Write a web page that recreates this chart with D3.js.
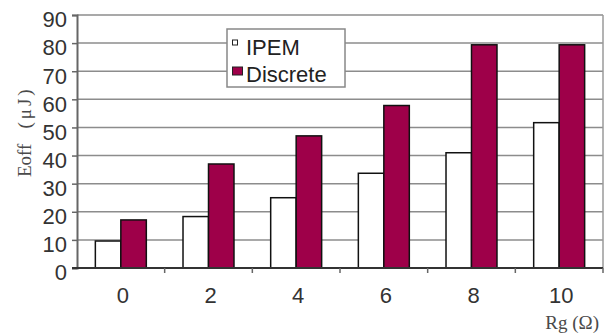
<!DOCTYPE html>
<html>
<head>
<meta charset="utf-8">
<script src="https://cdn.jsdelivr.net/npm/d3@7/dist/d3.min.js"></script>
<style>
  html, body { margin: 0; padding: 0; background: #fff; }
  svg { display: block; }
</style>
</head>
<body>
<svg id="chart" width="608" height="336"></svg>
<script>
// ---- data ----
const categories = ["0", "2", "4", "6", "8", "10"];
const seriesNames = ["IPEM", "Discrete"];
const ipemValues = [9.6, 18.3, 25.0, 33.7, 41.0, 51.7];
const discreteValues = [17.1, 37.0, 47.0, 57.8, 79.4, 79.4];
const yTicks = [0, 10, 20, 30, 40, 50, 60, 70, 80, 90];
const seriesColors = ["#ffffff", "#9e0049"];

(function () {
const svg = d3.select("#chart");
const mL = 77, mR = 603, mT = 15, mB = 268;

const x0 = d3.scaleBand().domain(categories).range([mL, mR]).padding(0);
const x1 = d3.scaleBand().domain(seriesNames).range([0, x0.bandwidth()])
  .paddingInner(0).paddingOuter(0.72);
const y = d3.scaleLinear().domain([0, 90]).range([mB, mT]);

// gridlines
svg.append("g").selectAll("line").data(yTicks.filter(d => d > 0)).join("line")
  .attr("x1", mL).attr("x2", mR)
  .attr("y1", d => y(d)).attr("y2", d => y(d))
  .attr("stroke", "#8c8c8c").attr("stroke-width", 1.5);

// right border
svg.append("line").attr("x1", mR).attr("x2", mR).attr("y1", mT).attr("y2", mB)
  .attr("stroke", "#9a9a9a").attr("stroke-width", 1.5);

// bars
const rows = categories.map((c, i) => ({ cat: c, vals: [ipemValues[i], discreteValues[i]] }));
const groups = svg.append("g").selectAll("g").data(rows).join("g")
  .attr("transform", d => `translate(${x0(d.cat)},0)`);
groups.selectAll("rect").data(d => d.vals.map((v, j) => ({ s: seriesNames[j], v, j }))).join("rect")
  .attr("x", d => x1(d.s))
  .attr("width", x1.bandwidth())
  .attr("y", d => y(d.v))
  .attr("height", d => y(0) - y(d.v))
  .attr("fill", d => seriesColors[d.j])
  .attr("stroke", "#111").attr("stroke-width", 1.5);

// y axis
const yAxis = svg.append("g").attr("transform", `translate(${mL},0)`)
  .call(d3.axisLeft(y).tickValues(yTicks).tickSize(5).tickPadding(5).tickFormat(d3.format("d")));
yAxis.select(".domain").attr("stroke", "#666").attr("stroke-width", 2);
yAxis.selectAll(".tick line").attr("stroke", "#666").attr("stroke-width", 1.5);
yAxis.selectAll(".tick text")
  .attr("font-family", "Liberation Sans, Arial, sans-serif").attr("font-size", 22)
  .attr("fill", "#333").attr("dy", "0.9em").attr("y", -8);

// x axis
const xAxis = svg.append("g").attr("transform", `translate(0,${mB})`)
  .call(d3.axisBottom(x0).tickSize(0).tickPadding(15));
xAxis.select(".domain").remove();
svg.append("line").attr("x1", mL - 5).attr("x2", mR).attr("y1", mB).attr("y2", mB)
  .attr("stroke", "#333").attr("stroke-width", 2);
svg.append("g").selectAll("line").data(categories).join("line")
  .attr("x1", (d, i) => mL + (i + 1) * x0.step())
  .attr("x2", (d, i) => mL + (i + 1) * x0.step())
  .attr("y1", mB).attr("y2", mB + 5)
  .attr("stroke", "#666").attr("stroke-width", 1.5);
xAxis.selectAll(".tick text")
  .attr("font-family", "Liberation Sans, Arial, sans-serif").attr("font-size", 22)
  .attr("fill", "#333").attr("dx", 2).attr("dy", "0.92em");

// axis titles
const yt = svg.append("text")
  .attr("transform", "translate(31,177) rotate(-90)")
  .attr("text-anchor", "start")
  .attr("font-family", "Liberation Serif, Times New Roman, serif")
  .attr("font-size", 19).attr("fill", "#4a4a4a");
yt.append("tspan").text("Eoff");
yt.append("tspan").attr("dx", 15).attr("letter-spacing", 3).text("(μJ)");

svg.append("text")
  .attr("x", 599).attr("y", 329).attr("text-anchor", "end")
  .attr("font-family", "Liberation Serif, Times New Roman, serif")
  .attr("font-size", 19).attr("fill", "#4a4a4a")
  .text("Rg  (Ω)");

// legend
const lg = svg.append("g");
lg.append("rect").attr("x", 227).attr("y", 29).attr("width", 118).attr("height", 58)
  .attr("fill", "#fff").attr("stroke", "#888").attr("stroke-width", 1.5);
const markerSizes = [[5, 5], [10, 8]];
const lItems = lg.selectAll("g").data(seriesNames).join("g")
  .attr("transform", (d, i) => `translate(0,${i * 26.5})`);
lItems.append("rect")
  .attr("x", 232.5)
  .attr("y", (d, i) => i === 0 ? 40 : 40.5)
  .attr("width", (d, i) => markerSizes[i][0])
  .attr("height", (d, i) => markerSizes[i][1])
  .attr("fill", (d, i) => seriesColors[i])
  .attr("stroke", "#222").attr("stroke-width", 1);
lItems.append("text")
  .attr("x", 246).attr("y", 55)
  .attr("font-family", "Liberation Sans, Arial, sans-serif").attr("font-size", 22)
  .attr("fill", "#222")
  .text(d => d);
})();
</script>
</body>
</html>
